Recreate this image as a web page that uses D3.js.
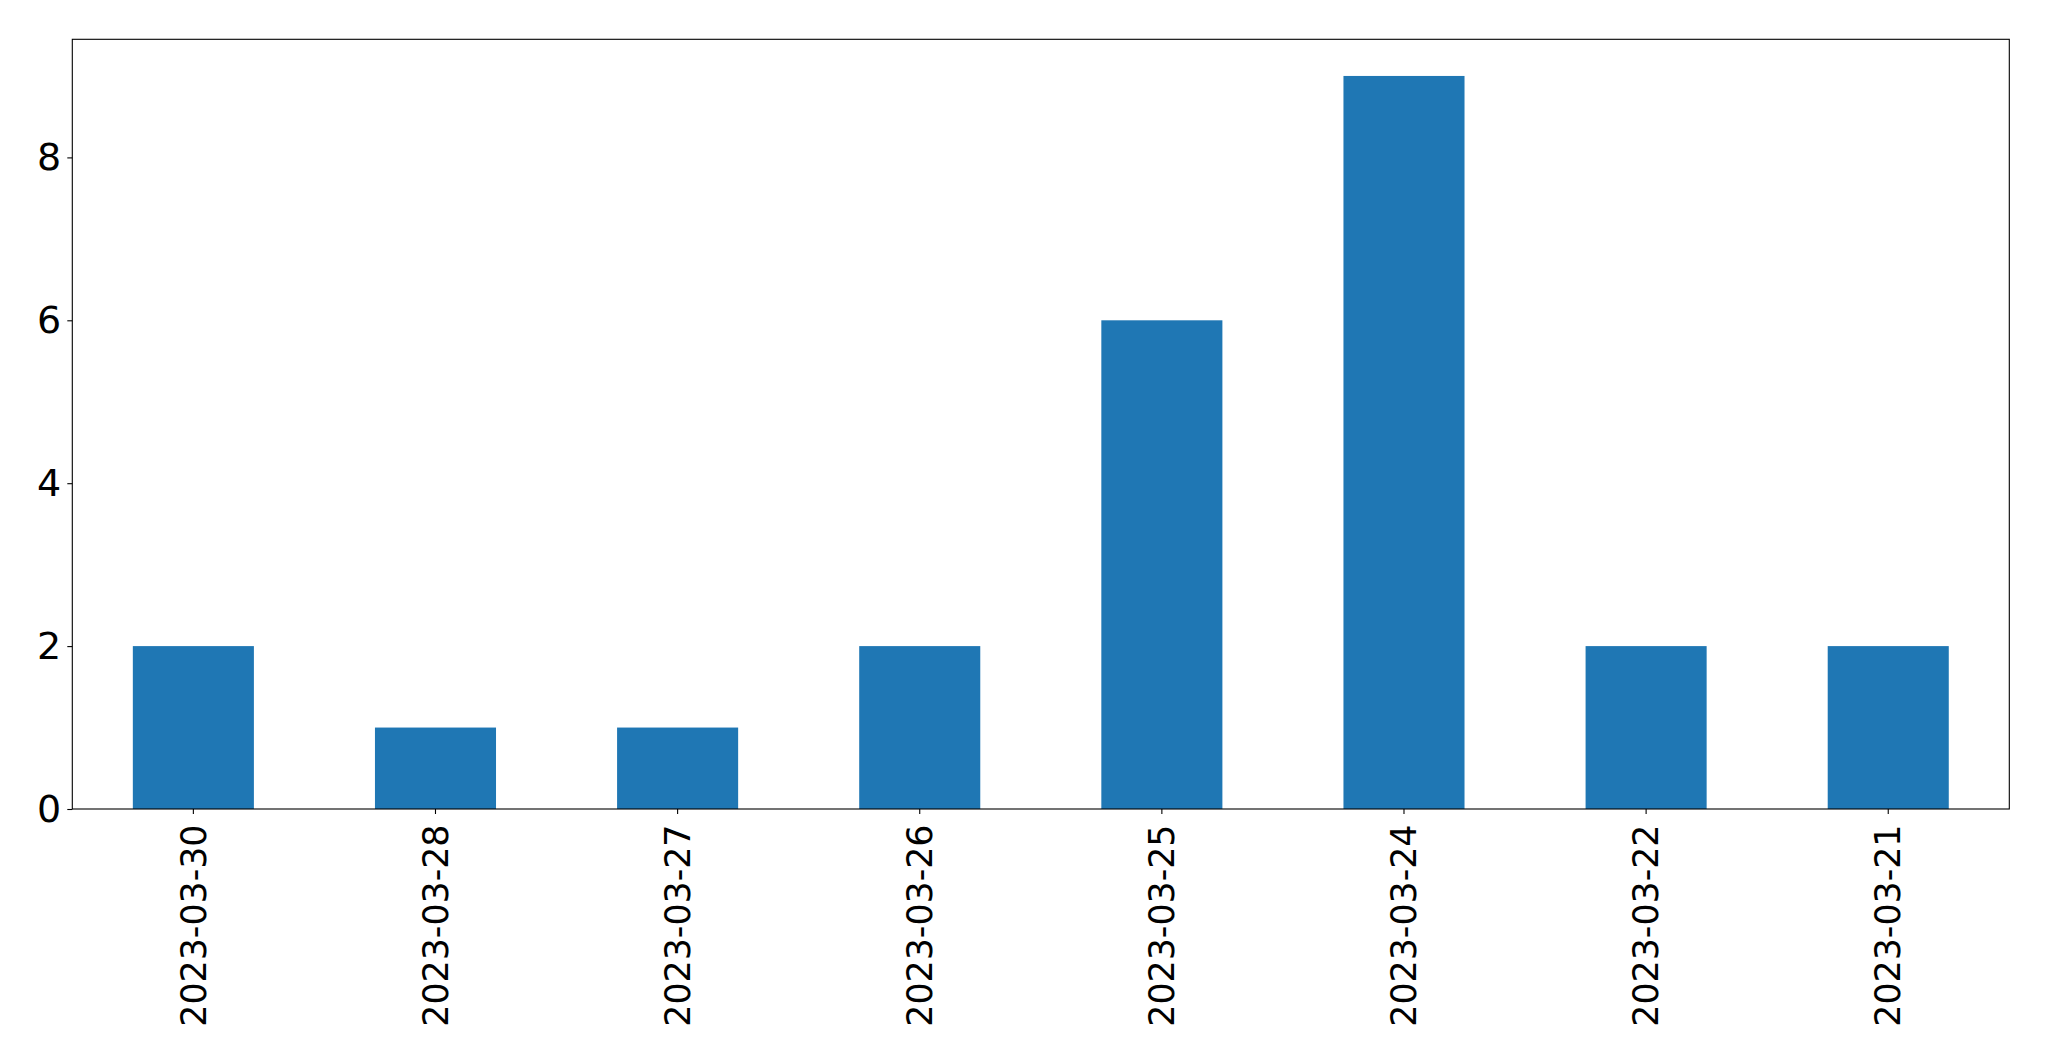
<!DOCTYPE html>
<html><head><meta charset="utf-8">
<script src="https://cdn.jsdelivr.net/npm/d3@7"></script>
<style>html,body{margin:0;padding:0;background:#fff;}</style>
</head><body>
<svg id="chart" width="2049" height="1061"></svg>
<script>
const categories = ["2023-03-30","2023-03-28","2023-03-27","2023-03-26","2023-03-25","2023-03-24","2023-03-22","2023-03-21"];
const values = [2,1,1,2,6,9,2,2];
const yTicks = [0,2,4,6,8];

const W = 2049, H = 1061;
const m = {left: 72.3, right: W - 2009.3, top: 39.3, bottom: H - 809};
const svg = d3.select("#chart");
const fontFamily = "DejaVu Sans, sans-serif";

const x = d3.scaleBand().domain(categories).range([m.left, W - m.right]).paddingInner(0.5).paddingOuter(0.25);
const y = d3.scaleLinear().domain([0, d3.max(values) * 1.05]).range([H - m.bottom, m.top]);

svg.append("g").selectAll("rect").data(values).join("rect")
  .attr("x", (d, i) => x(categories[i]))
  .attr("width", x.bandwidth())
  .attr("y", d => y(d))
  .attr("height", d => y(0) - y(d))
  .attr("fill", "#1f77b4");

const yAxis = svg.append("g").attr("transform", `translate(${m.left},0)`)
  .call(d3.axisLeft(y).tickValues(yTicks).tickSize(5).tickPadding(6).tickFormat(d3.format("d")));
yAxis.select(".domain").remove();
yAxis.selectAll("text").attr("font-size", 38).attr("font-family", fontFamily).attr("fill", "#000");
yAxis.selectAll("line").attr("stroke", "#000").attr("stroke-width", 1.1);

const xAxis = svg.append("g").attr("transform", `translate(0,${H - m.bottom})`)
  .call(d3.axisBottom(x).tickSize(5).tickPadding(6));
xAxis.select(".domain").remove();
xAxis.selectAll("line").attr("stroke", "#000").attr("stroke-width", 1.1);
xAxis.selectAll("text")
  .attr("font-size", 34.8).attr("font-family", fontFamily).attr("fill", "#000")
  .attr("transform", "rotate(-90)")
  .attr("text-anchor", "end")
  .attr("dy", "0.35em")
  .attr("x", -15.5)
  .attr("y", 0);

svg.append("rect")
  .attr("x", m.left).attr("y", m.top)
  .attr("width", W - m.left - m.right).attr("height", H - m.top - m.bottom)
  .attr("fill", "none").attr("stroke", "#000").attr("stroke-width", 1.1);
</script>
</body></html>
